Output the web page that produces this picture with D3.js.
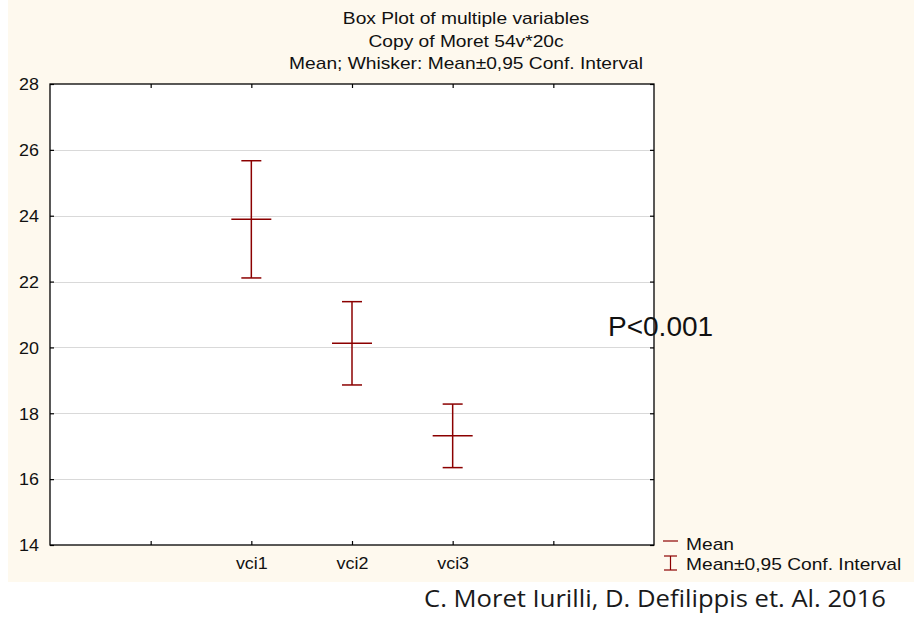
<!DOCTYPE html>
<html>
<head>
<meta charset="utf-8">
<script src="https://cdn.jsdelivr.net/npm/d3@7"></script>
<style>
  body { margin: 0; background: #ffffff; }
  svg { display: block; }
</style>
</head>
<body>
<svg id="chart" width="914" height="620"></svg>
<script>
// Means and 95% confidence limits per variable
const categories = ["vci1", "vci2", "vci3"];
const categoryPositions = [2, 3, 4];
const meanValues = [23.89, 20.13, 17.32];
const ciLower = [22.11, 18.86, 16.35];
const ciUpper = [25.67, 21.39, 18.28];

// Axis ticks
const yTicks = [14, 16, 18, 20, 22, 24, 26, 28];
const xTickPositions = [1, 2, 3, 4, 5];

// Text
const titleLines = [
  "Box Plot of multiple variables",
  "Copy of Moret 54v*20c",
  "Mean; Whisker: Mean\u00b10,95 Conf. Interval"
];
const legendLabels = ["Mean", "Mean\u00b10,95 Conf. Interval"];
const annotation = "P<0.001";
const credit = "C. Moret Iurilli, D. Defilippis et. Al. 2016";

const W = 914, H = 620;
const plot = { left: 50, right: 654, top: 84, bottom: 545 };
const WIDE = 1.2;              // horizontal stretch of the chart lettering
const TICK_WIDE = 1.12;
const markColor = "#8b0000";
const chartFont = "'Liberation Sans', Arial, sans-serif";

const svg = d3.select("#chart");

// cream panel behind the chart
svg.append("rect")
  .attr("x", 8).attr("y", 0)
  .attr("width", W - 8).attr("height", 582)
  .attr("fill", "#fef9ee");

// white plotting area
svg.append("rect")
  .attr("x", plot.left).attr("y", plot.top)
  .attr("width", plot.right - plot.left).attr("height", plot.bottom - plot.top)
  .attr("fill", "#ffffff");

const x = d3.scaleLinear().domain([0, 6]).range([plot.left, plot.right]);
const y = d3.scaleLinear().domain([14, 28]).range([plot.bottom, plot.top]);

// horizontal gridlines
svg.append("g")
  .selectAll("line")
  .data(yTicks.filter(t => t > 14 && t < 28))
  .join("line")
  .attr("x1", plot.left).attr("x2", plot.right)
  .attr("y1", d => Math.round(y(d)) + 0.5).attr("y2", d => Math.round(y(d)) + 0.5)
  .attr("stroke", "#d9d9d9")
  .attr("stroke-width", 1);

// axes: ticks point inward on all four sides
function styleAxis(g) {
  g.select(".domain").remove();
  g.selectAll(".tick line").attr("stroke", "#000").attr("stroke-width", 1.2);
  g.selectAll(".tick text")
    .attr("font-family", chartFont)
    .attr("font-size", 16)
    .attr("fill", "#111");
}

const gLeft = svg.append("g")
  .attr("transform", `translate(${plot.left},0)`)
  .call(d3.axisLeft(y).tickValues(yTicks).tickSize(-4).tickPadding(11).tickFormat(d3.format("d")))
  .call(styleAxis);
gLeft.selectAll(".tick text")
  .attr("x", -11 / TICK_WIDE)
  .attr("dy", "0.36em")
  .attr("transform", `scale(${TICK_WIDE},1)`);

svg.append("g")
  .attr("transform", `translate(${plot.right},0)`)
  .call(d3.axisRight(y).tickValues(yTicks).tickSize(-4).tickFormat(""))
  .call(styleAxis);

svg.append("g")
  .attr("transform", `translate(0,${plot.top})`)
  .call(d3.axisTop(x).tickValues(xTickPositions).tickSize(-4).tickFormat(""))
  .call(styleAxis);

const gBottom = svg.append("g")
  .attr("transform", `translate(0,${plot.bottom})`)
  .call(d3.axisBottom(x).tickValues(xTickPositions).tickSize(-4).tickPadding(13)
    .tickFormat(d => {
      const i = categoryPositions.indexOf(d);
      return i >= 0 ? categories[i] : "";
    }))
  .call(styleAxis);
gBottom.selectAll(".tick text").attr("transform", `scale(${TICK_WIDE},1)`);
gBottom.selectAll(".tick").each(function (d) {
  // keep labels centred on their tick after the horizontal stretch
  d3.select(this).select("text").attr("x", 0);
});

// plot frame
svg.append("rect")
  .attr("x", plot.left).attr("y", plot.top)
  .attr("width", plot.right - plot.left).attr("height", plot.bottom - plot.top)
  .attr("fill", "none")
  .attr("stroke", "#000")
  .attr("stroke-width", 1.3);

// mean markers with confidence whiskers
const rows = categories.map((c, i) => ({
  name: c, pos: categoryPositions[i],
  mean: meanValues[i], lo: ciLower[i], hi: ciUpper[i]
}));

const capHalf = 10, meanHalf = 20;
const marks = svg.append("g")
  .attr("stroke", markColor)
  .attr("stroke-width", 1.5)
  .attr("fill", "none");

const mg = marks.selectAll("g").data(rows).join("g");
mg.append("line")
  .attr("x1", d => x(d.pos)).attr("x2", d => x(d.pos))
  .attr("y1", d => y(d.lo)).attr("y2", d => y(d.hi));
mg.append("line")
  .attr("x1", d => x(d.pos) - capHalf).attr("x2", d => x(d.pos) + capHalf)
  .attr("y1", d => y(d.hi)).attr("y2", d => y(d.hi));
mg.append("line")
  .attr("x1", d => x(d.pos) - capHalf).attr("x2", d => x(d.pos) + capHalf)
  .attr("y1", d => y(d.lo)).attr("y2", d => y(d.lo));
mg.append("line")
  .attr("x1", d => x(d.pos) - meanHalf).attr("x2", d => x(d.pos) + meanHalf)
  .attr("y1", d => y(d.mean)).attr("y2", d => y(d.mean));

// stretched chart lettering
function wideText(parent, tx, ty, text, size, anchor) {
  return parent.append("text")
    .attr("transform", `translate(${tx},${ty}) scale(${WIDE},1)`)
    .attr("font-family", chartFont)
    .attr("font-size", size)
    .attr("fill", "#111")
    .attr("text-anchor", anchor || "start")
    .text(text);
}

// titles
const titleBaselines = [24, 46.5, 68.5];
titleLines.forEach((t, i) => wideText(svg, 466, titleBaselines[i], t, 16, "middle"));

// legend
const legend = svg.append("g");
legend.append("line")
  .attr("x1", 663).attr("x2", 678).attr("y1", 541).attr("y2", 541)
  .attr("stroke", markColor).attr("stroke-width", 1.2);
wideText(legend, 686, 550, legendLabels[0], 16);

const ci = legend.append("g").attr("stroke", markColor).attr("stroke-width", 1.2);
ci.append("line").attr("x1", 670.5).attr("x2", 670.5).attr("y1", 556).attr("y2", 570);
ci.append("line").attr("x1", 664).attr("x2", 677).attr("y1", 556).attr("y2", 556);
ci.append("line").attr("x1", 664).attr("x2", 677).attr("y1", 570).attr("y2", 570);
wideText(legend, 686, 570, legendLabels[1], 16);

// significance note
svg.append("text")
  .attr("x", 608).attr("y", 336)
  .attr("font-family", chartFont)
  .attr("font-size", 28)
  .attr("fill", "#111")
  .text(annotation);

// credit line
svg.append("text")
  .attr("x", 424).attr("y", 607)
  .attr("font-family", "'Open Sans', 'Noto Sans', sans-serif")
  .attr("font-size", 24)
  .attr("fill", "#1a1a1a")
  .attr("textLength", 462)
  .attr("lengthAdjust", "spacingAndGlyphs")
  .text(credit);
</script>
</body>
</html>
